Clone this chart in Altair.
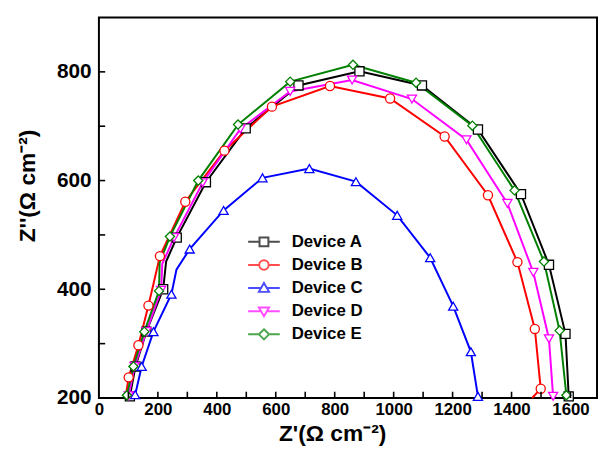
import altair as alt
import pandas as pd

SERIES = ["Device A", "Device B", "Device C", "Device D", "Device E"]
COLORS = ["#000000", "#ff0000", "#0000ff", "#ff00ff", "#008000"]
SHAPES = ["square", "circle", "triangle-up", "triangle-down", "diamond"]
LEGEND_SYMBOLS = [
    "M-1,0H-0.28M0.28,0H1M-0.28,-0.28H0.28V0.28H-0.28Z",
    "M-1,0H-0.3M0.3,0H1M0.3,0A0.3,0.3,0,1,1,-0.3,0A0.3,0.3,0,1,1,0.3,0Z",
    "M-1,0H-0.2M0.2,0H1M0,-0.32L0.32,0.24H-0.32Z",
    "M-1,0H-0.2M0.2,0H1M0,0.32L0.32,-0.24H-0.32Z",
    "M-1,0H-0.32M0.32,0H1M0,-0.32L0.32,0L0,0.32L-0.32,0Z",
]

# Device A (black squares)
A_X = [105, 124, 161, 218, 228, 264, 363, 498, 677, 884, 1096, 1286, 1432, 1527, 1583, 1594]
A_Y = [203, 258, 322, 400, 451, 495, 597, 696, 775, 801, 775, 694, 575, 445, 318, 203]
A_M = [1, 1, 1, 1, 0, 1, 1, 1, 1, 1, 1, 1, 1, 1, 1, 1]
# Device B (red circles)
B_X = [90, 101, 134, 168, 207, 293, 426, 587, 784, 988, 1173, 1320, 1420, 1479, 1499, 1470]
B_Y = [200, 238, 297, 370, 461, 561, 655, 736, 774, 751, 681, 573, 450, 327, 217, 200]
B_M = [0, 1, 1, 1, 1, 1, 1, 1, 1, 1, 1, 1, 1, 1, 1, 0]
# Device C (blue up-triangles)
C_X = [123, 145, 185, 246, 263, 308, 423, 555, 714, 872, 1012, 1124, 1202, 1262, 1286]
C_Y = [206, 258, 322, 391, 436, 474, 545, 605, 622, 598, 536, 458, 369, 285, 203]
C_M = [1, 1, 1, 1, 0, 1, 1, 1, 1, 1, 1, 1, 1, 1, 1]
# Device D (magenta down-triangles)
D_X = [101, 121, 161, 211, 215, 255, 352, 480, 649, 859, 1062, 1247, 1386, 1474, 1527, 1541]
D_Y = [204, 258, 322, 398, 447, 495, 596, 695, 764, 785, 750, 675, 558, 431, 309, 203]
D_M = [1, 1, 1, 1, 0, 1, 1, 1, 1, 1, 1, 1, 1, 1, 1, 1]
# Device E (green diamonds)
E_X = [95, 117, 154, 204, 206, 241, 337, 472, 649, 862, 1076, 1267, 1410, 1510, 1563, 1586]
E_Y = [205, 258, 322, 397, 449, 497, 600, 703, 782, 813, 780, 701, 582, 451, 324, 205]
E_M = [1, 1, 1, 1, 0, 1, 1, 1, 1, 1, 1, 1, 1, 1, 1, 1]

X_DOMAIN = [0, 1690]
Y_DOMAIN = [200, 900]
X_LABELS = [0, 200, 400, 600, 800, 1000, 1200, 1400, 1600]
Y_LABELS = [200, 400, 600, 800]
X_TICKS = [100, 200, 300, 400, 500, 600, 700, 800, 900, 1000, 1100, 1200, 1300, 1400, 1500, 1600]
Y_TICKS = [300, 400, 500, 600, 700, 800]

rows = []
for name, xs_, ys_, ms_ in zip(SERIES, [A_X, B_X, C_X, D_X, E_X], [A_Y, B_Y, C_Y, D_Y, E_Y],
                               [A_M, B_M, C_M, D_M, E_M]):
    for i, (x, y, m) in enumerate(zip(xs_, ys_, ms_)):
        rows.append({"series": name, "idx": i, "zr": x, "zi": y, "marker": m})
df = pd.DataFrame(rows)
# tick positions sit on the frame: x ticks at the bottom of the y domain, y ticks at the left of the x domain
xt_df = pd.DataFrame({"zr": X_TICKS, "zi": [Y_DOMAIN[0]] * len(X_TICKS)})
yt_df = pd.DataFrame({"zi": Y_TICKS, "zr": [X_DOMAIN[0]] * len(Y_TICKS)})

FONT = "Liberation Sans"
W, H = 504, 385

xs = alt.Scale(domain=X_DOMAIN, nice=False, zero=False)
ys = alt.Scale(domain=Y_DOMAIN, nice=False, zero=False)
stroke_scale = alt.Scale(domain=SERIES, range=COLORS)

x_axis = alt.Axis(orient="bottom", values=X_LABELS, ticks=False, tickSize=0, domain=False, grid=False,
                  format="d", labelPadding=4, labelFont=FONT, labelFontSize=17,
                  labelFontWeight="bold", labelColor="black", labelFlush=False, labelOverlap=False,
                  title="Z'(Ω cm⁻²)", titleFont=FONT, titleFontSize=23, titleFontWeight="bold",
                  titleColor="black", titlePadding=5, titleX=236)
y_axis = alt.Axis(orient="left", values=Y_LABELS, ticks=False, tickSize=0, domain=False, grid=False,
                  format="d", labelPadding=8, labelFont=FONT, labelFontSize=21,
                  labelFontWeight="bold", labelColor="black", labelFlush=False, labelOverlap=False,
                  title="Z''(Ω cm⁻²)", titleFont=FONT, titleFontSize=23, titleFontWeight="bold",
                  titleColor="black", titlePadding=17, titleY=170)

base = alt.Chart(df)

lines = base.mark_line(strokeWidth=2).encode(
    x=alt.X("zr:Q", scale=xs, axis=x_axis),
    y=alt.Y("zi:Q", scale=ys, axis=y_axis),
    stroke=alt.Stroke("series:N", scale=stroke_scale, legend=None),
    order=alt.Order("idx:Q"),
)

points = base.transform_filter("datum.marker == 1").mark_point(
    filled=False, fill="white", fillOpacity=1, size=85, strokeWidth=1.3, opacity=1
).encode(
    x=alt.X("zr:Q", scale=xs, axis=x_axis),
    y=alt.Y("zi:Q", scale=ys, axis=y_axis),
    stroke=alt.Stroke("series:N", scale=stroke_scale, legend=None),
    shape=alt.Shape("series:N", scale=alt.Scale(domain=SERIES, range=SHAPES), legend=None),
)

# inward tick marks: short stroke symbols anchored on the frame
x_ticks = alt.Chart(xt_df).mark_point(shape="M0,0V-2", filled=False, size=40, stroke="black",
                                      strokeWidth=1.6, opacity=1).encode(
    x=alt.X("zr:Q", scale=xs, axis=x_axis),
    y=alt.Y("zi:Q", scale=ys, axis=y_axis),
)
y_ticks = alt.Chart(yt_df).mark_point(shape="M0,0H2", filled=False, size=40, stroke="black",
                                      strokeWidth=1.6, opacity=1).encode(
    x=alt.X("zr:Q", scale=xs, axis=x_axis),
    y=alt.Y("zi:Q", scale=ys, axis=y_axis),
)

legend = alt.Legend(title=None, orient="none", legendX=150, legendY=218, direction="vertical",
                    padding=0, labelFont=FONT, labelFontSize=17, labelFontWeight="bold",
                    labelColor="black", labelOffset=11, symbolSize=1024, symbolStrokeWidth=2,
                    symbolFillColor="white", clipHeight=18, rowPadding=5.4, symbolOffset=0,
                    labelLimit=300)

legend_layer = base.transform_filter("false").mark_point(filled=False).encode(
    x=alt.X("zr:Q", scale=xs, axis=x_axis),
    y=alt.Y("zi:Q", scale=ys, axis=y_axis),
    stroke=alt.Stroke("series:N", scale=stroke_scale, legend=legend),
    shape=alt.Shape("series:N", scale=alt.Scale(domain=SERIES, range=LEGEND_SYMBOLS), legend=legend),
)

chart = alt.layer(lines, points, x_ticks, y_ticks, legend_layer).resolve_scale(
    stroke="independent", shape="independent"
).properties(
    width=W, height=H,
    autosize=alt.AutoSizeParams(type="none"),
    padding={"left": 92, "top": 7, "right": 1, "bottom": 48},
    background="white",
).configure_view(stroke="black", strokeWidth=2)

chart.save("out.html", embed_options={"renderer": "svg", "actions": False})
